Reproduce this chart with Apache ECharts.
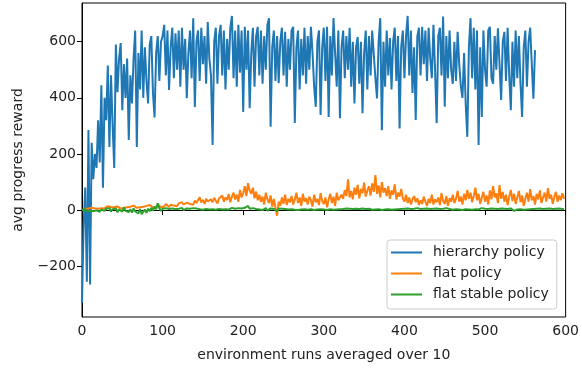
<!DOCTYPE html>
<html>
<head>
<meta charset="utf-8">
<script src="https://cdn.jsdelivr.net/npm/echarts@6/dist/echarts.min.js"></script>
<style>
  html, body { margin: 0; padding: 0; background: #fff; }
  #chart { width: 582px; height: 368px; }
</style>
</head>
<body>
<div id="chart"></div>
<script>
// values, one every STEP runs
const STEP = 2;
const xTicks = [0, 100, 200, 300, 400, 500, 600];
const yTicks = [-200, 0, 200, 400, 600];
const seriesNames = ['hierarchy policy', 'flat policy', 'flat stable policy'];

const hierarchyY = [
  -330, -60, 80, -255, 285, -265, 240, 110, 200, 150,
  320, 170, 445, 80, 400, 320, 515, 225, 480, 300,
  150, 590, 420, 540, 595, 356, 520, 400, 540, 250,
  480, 380, 540, 640, 225, 560, 430, 640, 400, 580,
  460, 380, 590, 620, 420, 330, 560, 620, 460, 600,
  620, 660, 480, 640, 428, 580, 650, 470, 630, 500,
  640, 440, 650, 500, 610, 399, 560, 640, 470, 684,
  367, 600, 640, 460, 650, 520, 620, 450, 670, 540,
  480, 232, 600, 650, 450, 620, 660, 480, 640, 430,
  610, 500, 650, 692, 470, 640, 440, 660, 490, 640,
  350, 653, 500, 640, 363, 560, 650, 440, 620, 653,
  480, 640, 450, 620, 500, 660, 684, 297, 580, 640,
  460, 620, 452, 600, 650, 480, 635, 440, 610, 500,
  640, 653, 310, 580, 640, 430, 610, 480, 650, 450,
  620, 500, 653, 560, 440, 368, 600, 640, 339, 580,
  650, 460, 653, 332, 620, 480, 684, 560, 440, 640,
  327, 580, 640, 470, 620, 500, 650, 440, 600, 380,
  580, 617, 450, 600, 345, 560, 640, 430, 620, 480,
  640, 646, 470, 398, 600, 684, 285, 600, 440, 640,
  480, 613, 430, 600, 650, 460, 620, 291, 580, 640,
  470, 620, 692, 480, 640, 417, 580, 321, 620, 650,
  480, 653, 520, 640, 460, 650, 540, 470, 660, 500,
  310, 620, 650, 480, 690, 368, 620, 470, 640, 500,
  450, 600, 460, 635, 520, 440, 400, 560, 380, 261,
  580, 684, 470, 650, 430, 640, 232, 580, 332, 640,
  500, 440, 640, 653, 470, 450, 620, 500, 648, 520,
  392, 600, 635, 460, 650, 480, 356, 600, 440, 640,
  470, 620, 450, 332, 580, 640, 440, 600, 650, 520,
  397, 570
];

const flatY = [
  0, 3, 5, 2, 6, 4, 8, 3, 6, 9,
  5, 10, 7, 12, 6, 9, 14, 8, 11, 6,
  10, 7, 13, 9, 5, 12, 8, 15, 10, 7,
  12, 9, 16, 11, 8, 14, 10, 17, 12, 9,
  15, 11, 18, 13, 9, 16, 12, 20, 14, 10,
  17, 13, 22, 15, 11, 19, 25, 16, 21, 14,
  24, 18, 28, 20, 15, 26, 32, 22, 29, 19,
  34, 25, 30, 46, 27, 36, 22, 40, 31, 26,
  38, 28, 44, 33, 24, 41, 35, 52, 30, 45,
  36, 57, 28, 48, 62, 38, 55, 30, 72, 45,
  60, 85, 50, 96, 70, 58, 80, 42, 66, 35,
  55, 30, 48, 20, 62, 38, 25, 52, 12, 40,
  8, -20, 30, 15, 45, 22, 55, 18, 40, 28,
  50, 20, 38, 62, 25, 45, 15, 58, 30, 42,
  20, 48, 35, 12, 55, 28, 40, 18, 60, 32,
  22, 45, 10, 38, 58, 25, 48, 15, 62, 35,
  28, 55, 40, 72, 50, 110, 45, 68, 38, 80,
  55, 90, 42, 75, 60, 98, 48, 70, 85, 52,
  95, 65, 125, 58, 88, 45, 100, 62, 78, 50,
  85, 40, 70, 55, 92, 38, 62, 48, 75, 42,
  30, 55, 25, 45, 20, 38, 50, 28, 42, 18,
  35, 22, 48, 30, 15, 40, 25, 55, 20, 38,
  28, 45, 18, 60, 32, 22, 50, 15, 42, 30,
  55, 25, 40, 68, 30, 48, 20, 58, 35, 72,
  40, 62, 28, 50, 80, 35, 58, 22, 45, 65,
  30, 52, 20, 70, 38, 85, 45, 60, 25, 89,
  40, 65, 30, 55, 18, 48, 72, 32, 58, 22,
  45, 68, 28, 52, 15, 40, 62, 30, 75, 35,
  50, 20, 58, 38, 70, 25, 45, 62, 30, 78,
  40, 55, 22, 48, 65, 30, 52, 35, 60, 40
];

const flatStableY = [
  0, -3, 4, -5, 2, -2, 5, -4, 3, -1,
  4, -6, 2, 7, -3, 5, -2, 8, -5, 3,
  -4, 6, -8, 2, 5, -6, 10, -3, 4, -7,
  3, -9, 6, -5, 2, -12, 4, -15, -6, 2,
  -10, 5, -4, 8, -2, 12, 3, 24, 6, -3,
  5, -2, 7, 0, 4, -3, 6, 1, 3, -1,
  5, 2, 8, 0, 4, 6, 1, 5, 3, 7,
  2, 6, 10, 3, 5, 1, 7, 4, 8, 2,
  5, 3, 7, 1, 6, 4, 9, 2, 5, 3,
  6, 2, 4, 8, 1, 5, 3, 7, 2, 6,
  4, 8, 2, 15, 5, 3, 7, 1, 4, 6,
  2, 5, 0, 4, 7, -2, 3, 6, 1, 5,
  3, -4, 6, 2, 5, 0, 4, 7, 2, 5,
  3, 6, 1, 4, 0, 5, 2, 7, 3, 4,
  1, 5, 3, 6, 0, 4, 2, 5, 3, 6,
  2, 4, 0, 5, 3, 6, 1, 4, 2, 5,
  3, 0, 4, 2, 6, 1, 5, 3, 4, 2,
  5, 1, 4, 3, 6, 0, 4, 2, 5, 3,
  1, 4, 2, 6, 3, 5, 0, 4, 2, 5,
  3, 6, 1, 4, 2, 5, 3, 0, 4, 2,
  5, 3, 6, 1, 4, 2, 5, 3, 7, 2,
  4, 1, 5, 3, 6, 2, 4, 0, 5, 3,
  6, 2, 4, 1, 5, 3, 7, 2, 4, 6,
  1, 5, 3, 6, 2, 4, 0, 5, 3, 6,
  2, 4, 1, 5, 3, 6, 2, 4, 7, 3,
  5, 1, 4, 2, 6, 3, 5, 0, 4, 2,
  6, 3, 5, 1, 4, 2, 6, 3, -3, 4,
  2, 5, 3, 6, 1, 4, 2, 5, 3, 6,
  4, 1, 5, 3, 6, 2, 4, 3, 5, 2,
  6, 3, 4, 1, 5, 3, 6, 2, 4, 3
];

const colors = ['#1f77b4', '#ff7f0e', '#2ca02c'];
const FONT = 'DejaVu Sans';

const toPoints = (ys) => ys.map((v, i) => [i * STEP, v]);

const chart = echarts.init(document.getElementById('chart'), null, { renderer: 'canvas' });

chart.setOption({
  animation: false,
  color: colors,
  textStyle: { fontFamily: FONT },
  grid: {
    left: 82, right: 16, top: 3, bottom: 51,
    show: true, borderColor: '#000', borderWidth: 1,
    backgroundColor: 'transparent'
  },
  legend: {
    orient: 'vertical',
    left: 387, top: 240,
    icon: 'rect',
    itemWidth: 31, itemHeight: 2,
    itemGap: 6,
    padding: [5, 8, 7, 4],
    backgroundColor: 'rgba(255,255,255,0.8)',
    borderColor: '#cccccc', borderWidth: 1, borderRadius: 3,
    textStyle: { fontFamily: FONT, fontSize: 14, lineHeight: 15, color: '#222', padding: [0, 0, 0, 6] },
    data: seriesNames
  },
  xAxis: {
    type: 'value',
    min: 0, max: 600, interval: 100,
    name: 'environment runs averaged over 10',
    nameLocation: 'middle', nameGap: 31,
    nameTextStyle: { fontFamily: FONT, fontSize: 14, color: '#222' },
    axisLine: { show: true, lineStyle: { color: '#000', width: 1 } },
    axisTick: { show: true, length: 5, lineStyle: { color: '#000' } },
    axisLabel: { fontFamily: FONT, fontSize: 14, color: '#222', margin: 7,
      customValues: xTicks },
    splitLine: { show: false }
  },
  yAxis: {
    type: 'value',
    min: -381, max: 738,
    name: 'avg progress reward',
    nameLocation: 'middle', nameGap: 57,
    nameTextStyle: { fontFamily: FONT, fontSize: 14, color: '#222' },
    axisLine: { show: true, lineStyle: { color: '#000', width: 1 } },
    axisTick: { show: true, length: 5, lineStyle: { color: '#000' }, customValues: yTicks },
    axisLabel: {
      fontFamily: FONT, fontSize: 14, color: '#222', margin: 6,
      customValues: yTicks,
      formatter: (v) => (v < 0 ? '\u2212' + Math.abs(v) : String(v))
    },
    splitLine: { show: false }
  },
  series: [
    { name: seriesNames[0], type: 'line', data: toPoints(hierarchyY) },
    { name: seriesNames[1], type: 'line', data: toPoints(flatY) },
    { name: seriesNames[2], type: 'line', data: toPoints(flatStableY) }
  ].map((s) => Object.assign(s, {
    symbol: 'none', showSymbol: false,
    lineStyle: { width: 2 },
    sampling: null
  }))
});
</script>
</body>
</html>
